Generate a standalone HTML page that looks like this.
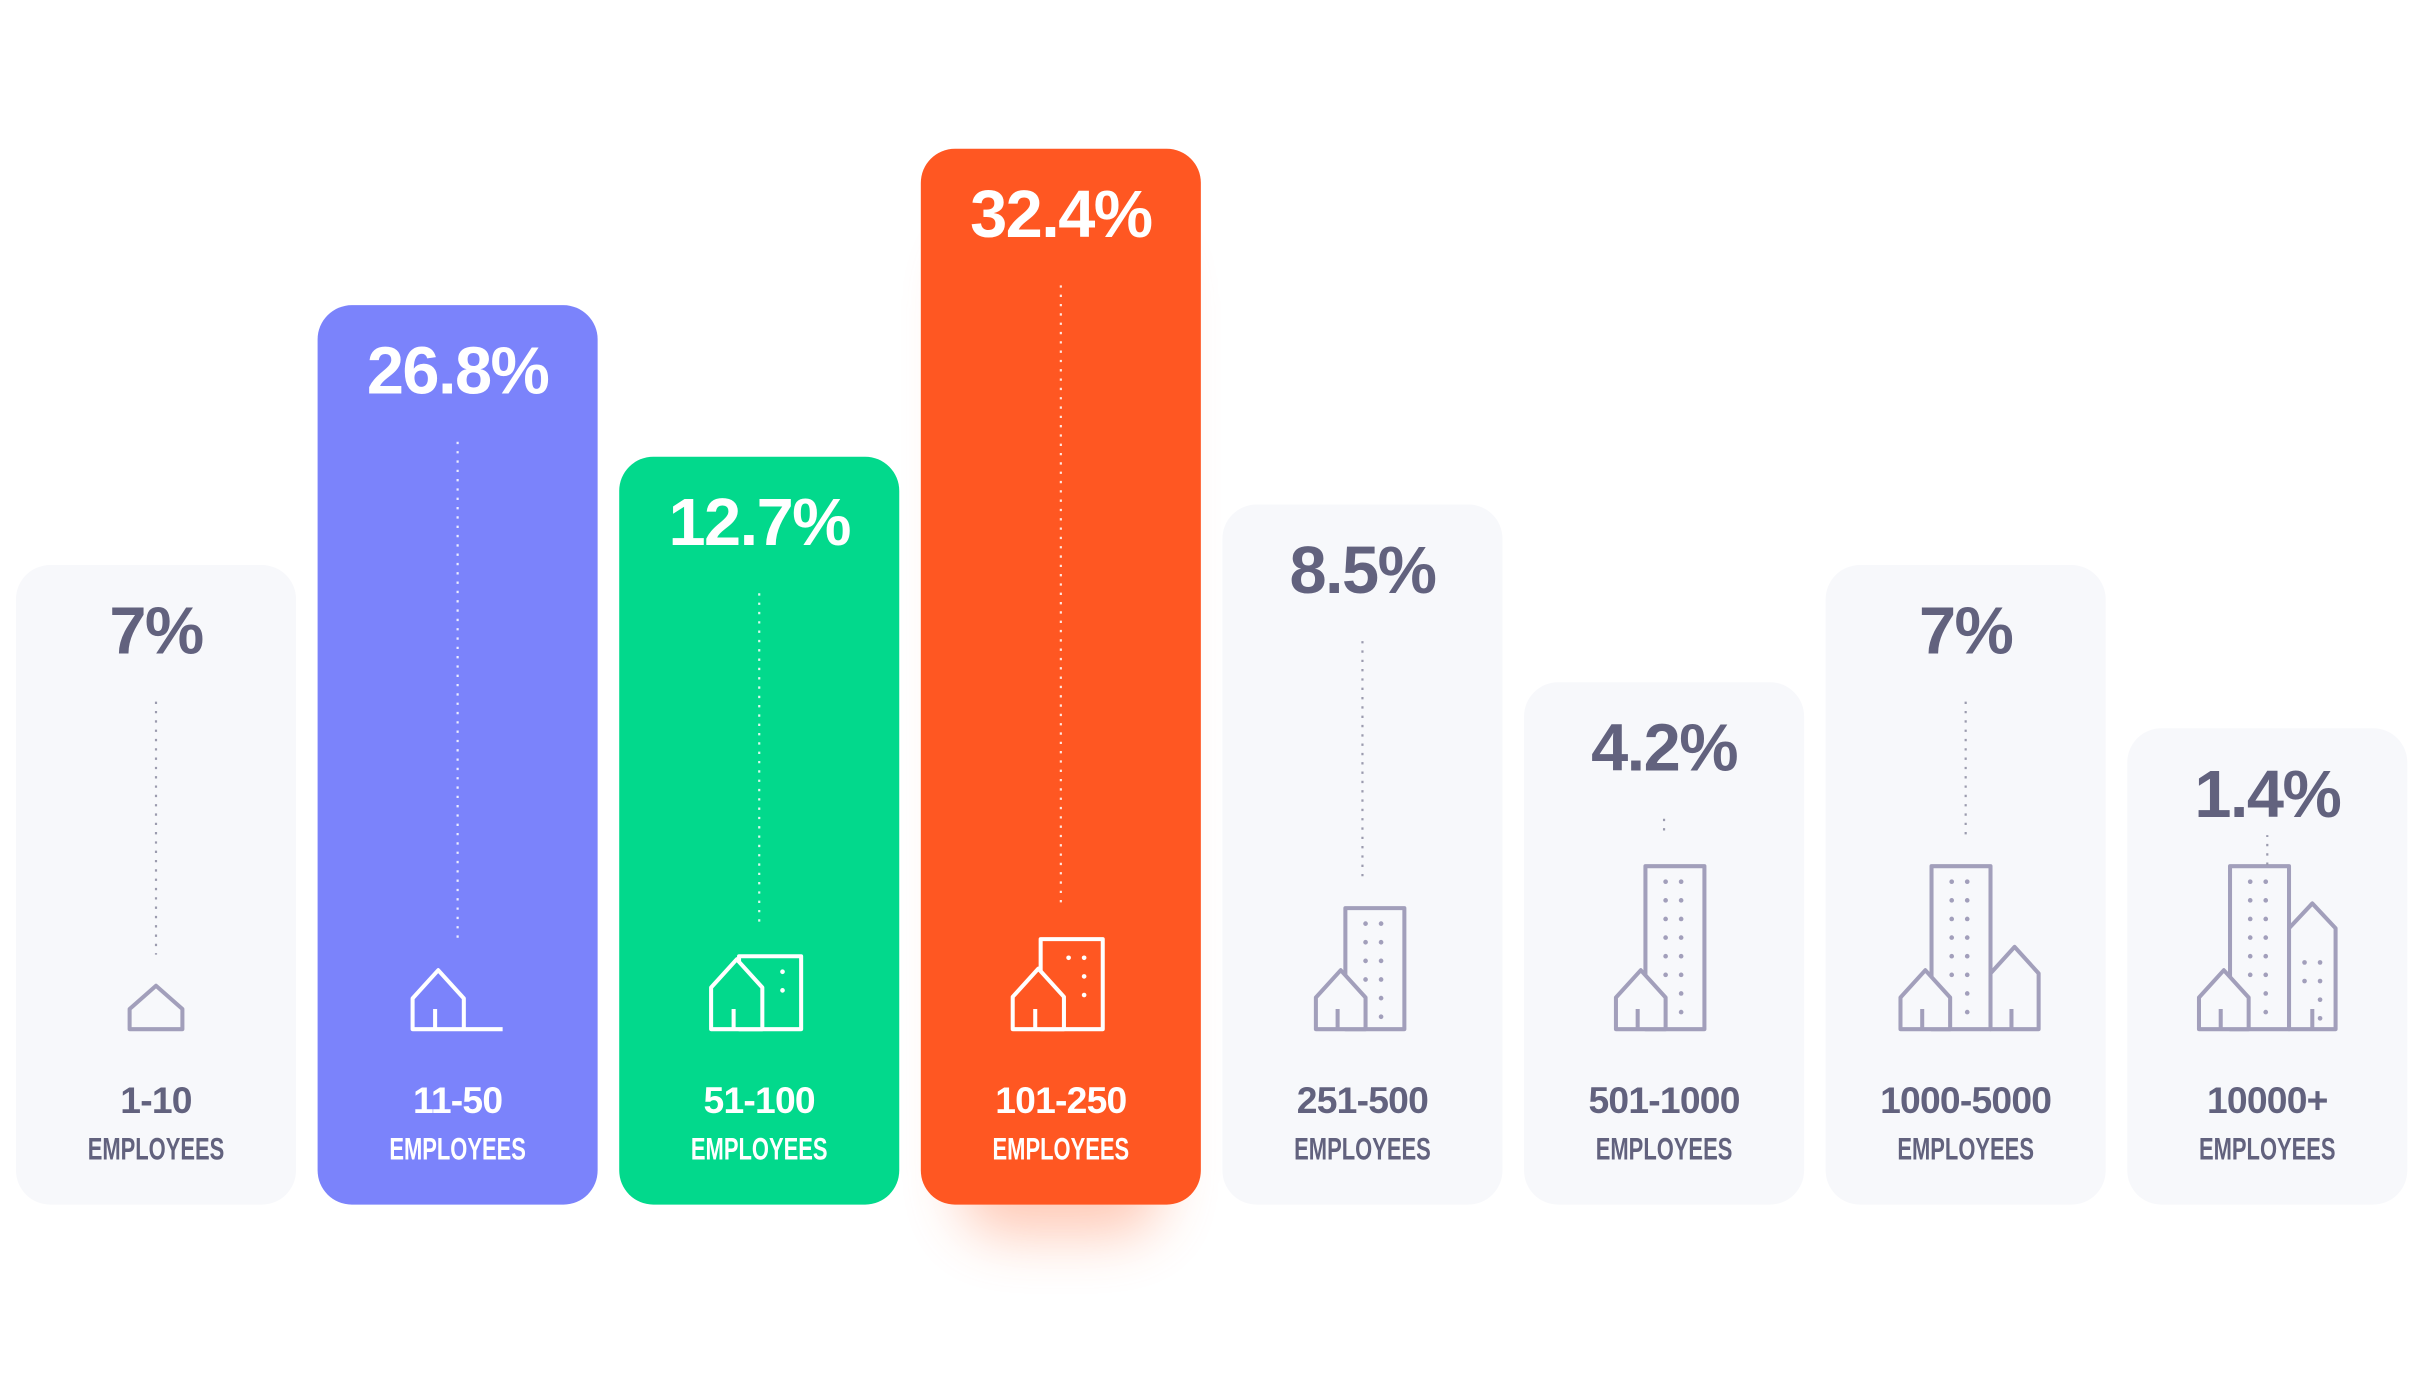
<!DOCTYPE html>
<html><head><meta charset="utf-8"><style>
html,body{margin:0;padding:0;background:#fff;}
svg{display:block;}
</style></head><body>
<svg id="chart" width="2434" height="1380" viewBox="0 0 1568 889" xmlns="http://www.w3.org/2000/svg">
<defs>
<filter id="glow" x="-50%" y="-50%" width="200%" height="200%"><feGaussianBlur stdDeviation="18"/></filter>
</defs>
<g id="cards"></g>
</svg>
<script>
const categories = ['1-10','11-50','51-100','101-250','251-500','501-1000','1000-5000','10000+'];
const values = [7, 26.8, 12.7, 32.4, 8.5, 4.2, 7, 1.4];
const valueLabels = ['7%','26.8%','12.7%','32.4%','8.5%','4.2%','7%','1.4%'];
const highlight = ['none','blue','green','orange','none','none','none','none'];

const NS='http://www.w3.org/2000/svg';
const BOTTOM=776, LEFT0=10.3, PITCH=194.3, W=180.4;
const scaleDom=[0,5,7,8.5,13,25,35], scaleRng=[292,345,412,451,484,547,727];
function yScale(v){
  for(let i=0;i<scaleDom.length-1;i++){
    if(v<=scaleDom[i+1]||i===scaleDom.length-2){
      const t=(v-scaleDom[i])/(scaleDom[i+1]-scaleDom[i]);
      return BOTTOM-(scaleRng[i]+t*(scaleRng[i+1]-scaleRng[i]));
    }
  }
}
function xScale(i){return LEFT0+i*PITCH;}
const fills={none:'#f7f8fb',blue:'#7b83fb',green:'#02d98c',orange:'#ff5722'};
function el(tag,attrs,parent){const e=document.createElementNS(NS,tag);for(const k in attrs)e.setAttribute(k,attrs[k]);parent.appendChild(e);return e;}

function house(x,w,peak,base){
  const wall=peak+w*0.55;
  const d=x+w/2;
  return `M${x},${base} V${wall} L${d},${peak} L${x+w},${wall} V${base} Z M${d-2},${base} V${base-13}`;
}
function dots(g,x0,y0,cols,rows,col){
  for(let r=0;r<rows;r++)for(let c=0;c<cols;c++){
    if(c===0&&r>=rows-2&&cols>1)continue;
    el('circle',{cx:x0+c*10,cy:y0+r*12,r:1.5,fill:col},g);
  }
}
function icon(g,i,cx,col){
  const b=663, sw=2.6;
  const p={fill:'none',stroke:col,'stroke-width':sw,'stroke-linejoin':'round'};
  let top=0;
  if(i===0){ el('path',Object.assign({d:`M${cx-17},${b} V${b-13} L${cx},${b-28} L${cx+17},${b-13} V${b} Z`},p),g); top=b-28; }
  else if(i===1){ el('path',Object.assign({d:house(cx-29,33,625,b)+` M${cx+4},${b} H${cx+29}`},p),g); top=625; }
  else if(i===2){ el('path',Object.assign({d:`M${cx-13},${b} V616 H${cx+27} V${b} Z`},p),g);
    el('path',Object.assign({d:house(cx-31,33,618,b)},Object.assign({},p,{fill:fills.green})),g);
    dots(g,cx+15,626,1,2,col); top=616; }
  else if(i===3){ el('path',Object.assign({d:`M${cx-13},${b} V605 H${cx+27} V${b} Z`},p),g);
    el('path',Object.assign({d:house(cx-31,33,624,b)},Object.assign({},p,{fill:fills.orange})),g);
    dots(g,cx+5,617,2,3,col); top=605; }
  else {
    const tTop = i===4?585:558, tx = i===4?cx-11:(i===5?cx-12:(i===6?cx-22:cx-24));
    const hx = i===4?cx-30:(i===5?cx-31:(i===6?cx-42:cx-44));
    el('path',Object.assign({d:`M${tx},${b} V${tTop} H${tx+38} V${b} Z`},p),g);
    dots(g,tx+13,tTop+10,2,i===4?6:8,col);
    el('path',Object.assign({d:house(hx,32,625,b)},Object.assign({},p,{fill:'#f7f8fb'})),g);
    if(i===6){ el('path',Object.assign({d:house(tx+38,31,610,b)},Object.assign({},p,{fill:'#f7f8fb'})),g); }
    if(i===7){ el('path',Object.assign({d:`M${tx+38},${b} V598 L${tx+53},582 L${tx+68},598 V${b} Z M${tx+53},${b} V${b-13}`},p),g);
      dots(g,tx+48,620,2,4,col); }
    top=tTop;
  }
  return top;
}

const root=document.getElementById('cards');
categories.forEach((cat,i)=>{
  const g=el('g',{},root);
  
  
  const x=xScale(i), top=yScale(values[i]), cx=x+W/2;
  const hl=highlight[i];
  if(hl==='orange'){
    const sh=el('rect',{x:x+25,y:top+60,width:W-50,height:BOTTOM-top-40,rx:30,fill:'#ff8a60',opacity:0.45,filter:'url(#glow)'},g);
    
    
  }
  const r=el('rect',{x:x,y:top,width:W,height:BOTTOM-top,rx:22,fill:fills[hl]},g);
  
  
  const txtCol = hl==='none' ? '#62627e' : '#ffffff';
  const iconCol = hl==='none' ? '#a29fbb' : '#ffffff';
  const dotCol = hl==='none' ? '#9b9bae' : 'rgba(255,255,255,0.85)';
  const t=el('text',{x:cx,y:top+57,'text-anchor':'middle','font-family':'"Liberation Sans", sans-serif','font-weight':'bold','font-size':43,fill:txtCol,'letter-spacing':'-1'},g);
  t.textContent=valueLabels[i];
  
  
  const ig=el('g',{},g);
  
  
  const iTop=icon(ig,i,cx,iconCol);
  const ln=el('line',{x1:cx,x2:cx,y1:top+88,y2:iTop-20,stroke:dotCol,'stroke-width':1.4,'stroke-dasharray':'1.5 4.5'},g);
  
  
  const c=el('text',{x:cx,y:717,'text-anchor':'middle','font-family':'"Liberation Sans", sans-serif','font-weight':'bold','font-size':24,fill:txtCol,'letter-spacing':'-0.5'},g);
  c.textContent=cat;
  
  
  const e=el('text',{x:cx,y:747,'text-anchor':'middle','font-family':'"Liberation Sans Narrow", "Liberation Sans", sans-serif','font-weight':'bold','font-size':20,fill:txtCol,textLength:88,lengthAdjust:'spacingAndGlyphs'},g);
  e.textContent='EMPLOYEES';
  
  
});
</script>
</body></html>
